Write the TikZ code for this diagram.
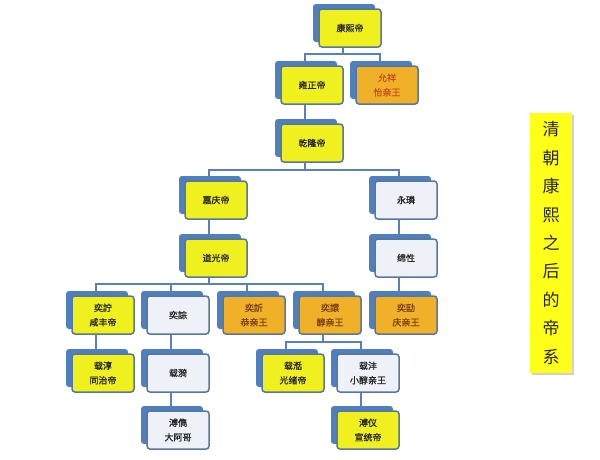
\documentclass[tikz,border=0pt]{standalone}
\usepackage{fontspec}
\setmainfont{Noto Sans CJK SC}
\newfontfamily\cjkb[FakeBold=1]{Noto Sans CJK SC}
\usetikzlibrary{shadows}
\usetikzlibrary{backgrounds}
\definecolor{backblue}{HTML}{4F7FBD}
\definecolor{edgeblue}{HTML}{56789F}
\definecolor{lineblue}{HTML}{5A80B8}
\definecolor{empyellow}{HTML}{F0F01E}
\definecolor{princeorange}{HTML}{F0B128}
\definecolor{noblewhite}{HTML}{EEF2F8}
\definecolor{princetext}{HTML}{7A4210}
\definecolor{redtext}{HTML}{C8501E}
\definecolor{titleyellow}{HTML}{FFFF1A}

\tikzset{
  person/.style={draw=edgeblue,line width=1.5pt,rounded corners=3pt,
    minimum width=62pt,minimum height=38pt,inner sep=1pt,align=center,
    font=\cjkb\fontsize{9}{14.5}\selectfont,text=black!85,
    drop shadow={shadow xshift=-6pt,shadow yshift=5pt,fill=backblue,opacity=1}},
  emp/.style={person,fill=empyellow},
  prince/.style={person,fill=princeorange,text=princetext},
  noble/.style={person,fill=noblewhite},
  conn/.style={draw=lineblue,line width=1.8pt}
}

\begin{document}
\begin{tikzpicture}[x=1pt,y=-1pt]
  \useasboundingbox (0,0) rectangle (600,459);

  \node[emp] (kangxi) at (350,28) {康熙帝};
  \node[emp] (yongzheng) at (312,85) {雍正帝};
  \node[prince,text=redtext] (yunxiang) at (387,85) {允祥\\怡亲王};
  \node[emp] (qianlong) at (312,143) {乾隆帝};
  \node[emp] (jiaqing) at (216,200) {嘉庆帝};
  \node[noble] (yonglin) at (406,200) {永璘};
  \node[emp] (daoguang) at (216,258) {道光帝};
  \node[noble] (mianxing) at (406,258) {绵性};

  \node[emp] (yizhu) at (103,315) {奕詝\\咸丰帝};
  \node[noble] (yicong) at (178,315) {奕誴};
  \node[prince] (yixin) at (254,315) {奕訢\\恭亲王};
  \node[prince] (yixuan) at (330,315) {奕譞\\醇亲王};
  \node[prince] (yikuang) at (406,315) {奕劻\\庆亲王};

  \node[emp] (zaichun) at (103,373) {载淳\\同治帝};
  \node[noble] (zaiyi) at (178,373) {载漪};
  \node[emp] (zaitian) at (293,373) {载湉\\光绪帝};
  \node[noble] (zaifeng) at (368,373) {载沣\\小醇亲王};

  \node[noble] (pujun) at (178,430) {溥儁\\大阿哥};
  \node[emp] (puyi) at (368,430) {溥仪\\宣统帝};

  % title
  \node[fill=titleyellow,minimum width=42pt,minimum height=260pt,inner sep=0pt,
    align=center,font=\fontsize{17}{28.4}\selectfont,text=black!85,
    drop shadow={shadow xshift=1.5pt,shadow yshift=-2pt,fill=black!30,opacity=0.6}]
    (title) at (551,243) {清\\朝\\康\\熙\\之\\后\\的\\帝\\系};

  \begin{scope}[on background layer]
    \fill[white] (0,0) rectangle (600,459);
    \draw[conn] ([xshift=-7pt]kangxi.south) -- ++(0,6) -| ([xshift=-7pt]yongzheng.north);
    \draw[conn] ([xshift=-7pt]kangxi.south) -- ++(0,6) -| ([xshift=-7pt]yunxiang.north);
    \draw[conn] ([xshift=-7pt]yongzheng.south) -- ([xshift=-7pt]qianlong.north);
    \draw[conn] ([xshift=-7pt]qianlong.south) -- ++(0,7) -| ([xshift=-7pt]jiaqing.north);
    \draw[conn] ([xshift=-7pt]qianlong.south) -- ++(0,7) -| ([xshift=-7pt]yonglin.north);
    \draw[conn] ([xshift=-7pt]jiaqing.south) -- ([xshift=-7pt]daoguang.north);
    \draw[conn] ([xshift=-7pt]yonglin.south) -- ([xshift=-7pt]mianxing.north);
    \draw[conn] ([xshift=-7pt]mianxing.south) -- ([xshift=-7pt]yikuang.north);
    \foreach \kid in {yizhu,yicong,yixin,yixuan}
      \draw[conn] ([xshift=-7pt]daoguang.south) -- ++(0,6) -| ([xshift=-7pt]\kid.north);
    \draw[conn] ([xshift=-7pt]yizhu.south) -- ([xshift=-7pt]zaichun.north);
    \draw[conn] ([xshift=-7pt]yicong.south) -- ([xshift=-7pt]zaiyi.north);
    \draw[conn] ([xshift=-7pt]zaiyi.south) -- ([xshift=-7pt]pujun.north);
    \draw[conn] ([xshift=-7pt]yixuan.south) -- ++(0,7) -| ([xshift=-7pt]zaitian.north);
    \draw[conn] ([xshift=-7pt]yixuan.south) -- ++(0,7) -| ([xshift=-7pt]zaifeng.north);
    \draw[conn] ([xshift=-7pt]zaifeng.south) -- ([xshift=-7pt]puyi.north);
  \end{scope}
\end{tikzpicture}
\end{document}
